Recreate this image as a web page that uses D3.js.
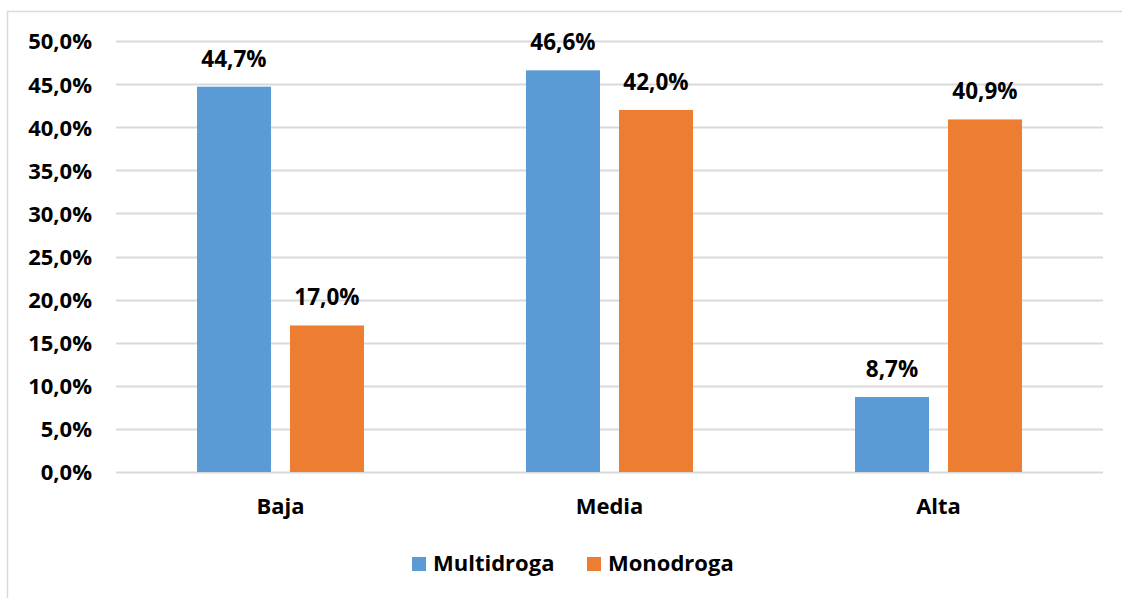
<!DOCTYPE html>
<html>
<head>
<meta charset="utf-8">
<script src="https://cdn.jsdelivr.net/npm/d3@7"></script>
<style>
  html, body { margin: 0; padding: 0; background: #fff; }
  svg { display: block; }
  text { font-family: "Open Sans", "Noto Sans", sans-serif; font-weight: 700; fill: #000; }
</style>
</head>
<body>
<svg id="chart" width="1122" height="598"></svg>
<script>
// Categories, series and tick values
const categories = ["Baja", "Media", "Alta"];
const seriesNames = ["Multidroga", "Monodroga"];
const multidroga = [44.7, 46.6, 8.7];
const monodroga = [17.0, 42.0, 40.9];
const yTicks = [0, 5, 10, 15, 20, 25, 30, 35, 40, 45, 50];
const colors = ["#5b9bd5", "#ed7d31"];

const series = [multidroga, monodroga];
const fmt = v => v.toFixed(1).replace(".", ",") + "%";

const svg = d3.select("#chart");
const W = 1122, H = 598;

// Chart frame
svg.append("rect")
  .attr("x", 7.5).attr("y", 11.5)
  .attr("width", W + 20).attr("height", H + 20)
  .attr("fill", "#fff").attr("stroke", "#d9d9d9").attr("stroke-width", 1.5);

const plot = { left: 116, right: 1103, top: 41, bottom: 472 };

const x0 = d3.scaleBand().domain(categories)
  .range([plot.left, plot.right]).paddingInner(0).paddingOuter(0);
const barW = 74, gap = 19;
const x1 = d3.scaleBand().domain(seriesNames)
  .range([0, barW * 2 + gap]).paddingInner(gap / (barW + gap)).paddingOuter(0);
const groupOffset = (x0.bandwidth() - (barW * 2 + gap)) / 2;

const y = d3.scaleLinear().domain([0, 50]).range([plot.bottom, plot.top]);

// Gridlines
svg.append("g").selectAll("line").data(yTicks).join("line")
  .attr("x1", plot.left).attr("x2", plot.right)
  .attr("y1", d => Math.round(y(d)) + 0.5).attr("y2", d => Math.round(y(d)) + 0.5)
  .attr("stroke", "#d9d9d9").attr("stroke-width", 2);

// Y-axis tick labels
const yAxis = d3.axisLeft(y).tickValues(yTicks).tickFormat(fmt).tickSize(0).tickPadding(0);
const gy = svg.append("g").attr("transform", `translate(92,0)`).call(yAxis);
gy.select(".domain").remove();
gy.selectAll("text")
  .attr("font-size", 22).attr("font-family", null).attr("dy", "0.36em");

// Bars
const groups = svg.append("g").selectAll("g").data(categories).join("g")
  .attr("transform", c => `translate(${x0(c) + groupOffset},0)`);

groups.each(function (c, ci) {
  const g = d3.select(this);
  seriesNames.forEach((s, si) => {
    const v = series[si][ci];
    g.append("rect")
      .attr("x", x1(s)).attr("width", x1.bandwidth())
      .attr("y", y(v)).attr("height", y(0) - y(v))
      .attr("fill", colors[si]);
    g.append("text")
      .attr("x", x1(s) + x1.bandwidth() / 2)
      .attr("y", y(v) - 20)
      .attr("text-anchor", "middle")
      .attr("font-size", 22.5)
      .text(fmt(v));
  });
});

// Category labels
svg.append("g").selectAll("text").data(categories).join("text")
  .attr("x", c => x0(c) + x0.bandwidth() / 2)
  .attr("y", 514)
  .attr("text-anchor", "middle")
  .attr("font-size", 22)
  .text(c => c);

// Legend
const legendItems = [
  { name: seriesNames[0], color: colors[0], x: 412 },
  { name: seriesNames[1], color: colors[1], x: 587 }
];
const lg = svg.append("g").selectAll("g").data(legendItems).join("g")
  .attr("transform", d => `translate(${d.x},0)`);
lg.append("rect").attr("x", 0).attr("y", 557).attr("width", 14).attr("height", 14)
  .attr("fill", d => d.color);
lg.append("text").attr("x", 21).attr("y", 571).attr("font-size", 22).text(d => d.name);
</script>
</body>
</html>
